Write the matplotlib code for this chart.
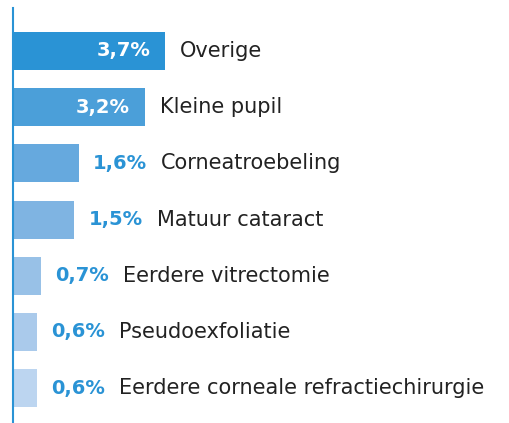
import matplotlib
matplotlib.use('Agg')
import matplotlib.pyplot as plt

categories = ['Overige', 'Kleine pupil', 'Corneatroebeling', 'Matuur cataract',
              'Eerdere vitrectomie', 'Pseudoexfoliatie',
              'Eerdere corneale refractiechirurgie']
values = [3.7, 3.2, 1.6, 1.5, 0.7, 0.6, 0.6]
colors = ['#2a93d5', '#4b9fd9', '#66a9de', '#7fb4e2', '#98c1e7', '#aacaeb', '#bcd5f0']

label_blue = '#2a93d5'
text_dark = '#222222'


def fmt(v):
  return ('%.1f%%' % v).replace('.', ',')


def main():
  fig = plt.figure(figsize=(5.09, 4.23), dpi=100)
  ax = fig.add_axes([12.5 / 509, 0, 1 - 12.5 / 509, 415 / 423])

  pos = list(range(len(values)))
  ax.barh(pos, values, height=0.676, color=colors, left=0)
  ax.set_xlim(0, 496.5 / 41.3)
  ax.set_ylim(6.62, -0.765)

  for i, v in enumerate(values):
    if v > 3:
      ax.annotate(fmt(v), xy=(v, i), xytext=(-15, 0), textcoords='offset pixels',
                  ha='right', va='center', color='white', fontsize=14,
                  fontweight='bold')
      ax.annotate(categories[i], xy=(v, i), xytext=(15, 0), textcoords='offset pixels',
                  ha='left', va='center', color=text_dark, fontsize=15)
    else:
      t = ax.annotate(fmt(v), xy=(v, i), xytext=(14, 0), textcoords='offset pixels',
                      ha='left', va='center', color=label_blue, fontsize=14,
                      fontweight='bold')
      ax.annotate(categories[i], xy=(1, 0.5), xycoords=t, xytext=(14, 0),
                  textcoords='offset pixels', ha='left', va='center',
                  color=text_dark, fontsize=15)

  for side in ['top', 'right', 'bottom']:
    ax.spines[side].set_visible(False)
  ax.spines['left'].set_color(label_blue)
  ax.spines['left'].set_linewidth(1.5)
  ax.set_xticks([])
  ax.set_yticks([])

  fig.savefig('out.png', dpi=100)


if __name__ == '__main__':
  main()
